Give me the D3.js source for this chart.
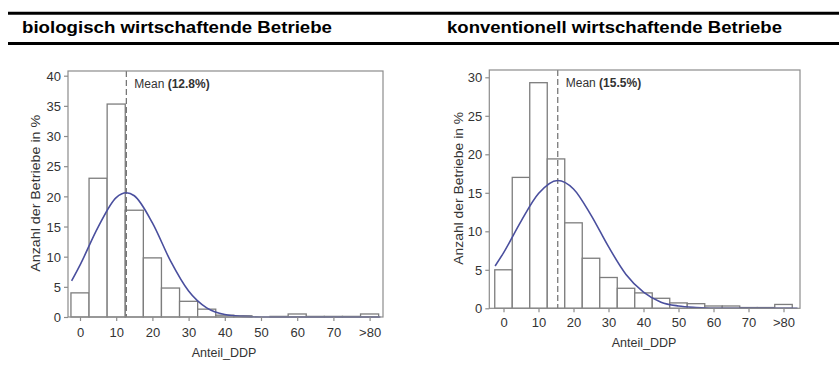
<!DOCTYPE html>
<html><head><meta charset="utf-8">
<script src="https://cdn.jsdelivr.net/npm/d3@7"></script>
<style>body{margin:0;background:#fff}svg{display:block}text{font-family:"Liberation Sans",Arial,sans-serif}</style>
</head><body>
<svg id="c" width="839" height="372"></svg>
<script>
// ---- data ----
const panelTitles = ["biologisch wirtschaftende Betriebe", "konventionell wirtschaftende Betriebe"];
const binCenters = [0,5,10,15,20,25,30,35,40,45,50,55,60,65,70,75,80];
const bioPct  = [4,23,35.3,17.7,9.8,4.8,2.6,1.3,0.3,0.2,0,0.1,0.5,0.1,0.1,0.1,0.5];
const convPct = [5,17,29.3,19.4,11.1,6.5,4,2.6,2,1.3,0.7,0.6,0.3,0.3,0.1,0.1,0.5];
const bioCurveX = [-2.3,0,5,10,12.8,15,20,25,30,35,40,45,50,60,70,80,83];
const bioCurveY = [6.0,8.6,14.9,19.8,20.6,20.1,15.6,9.3,4.3,1.5,0.4,0.1,0,0,0,0,0];
const convCurveX = [-2.4,0,5,10,15.5,20,25,30,35,40,45,50,55,60,70,80,84];
const convCurveY = [5.5,7.2,11.3,14.9,16.6,15.5,12.1,8.0,4.4,2.1,0.8,0.3,0.1,0,0,0,0];
const bioMean = 12.8, convMean = 15.5;
const xTickValues = [0,10,20,30,40,50,60,70,80];
const xTickLabels = ["0","10","20","30","40","50","60","70",">80"];
const bioYTicks = [0,5,10,15,20,25,30,35,40];
const convYTicks = [0,5,10,15,20,25,30];
const yTitle = "Anzahl der Betriebe in %";
const xTitle = "Anteil_DDP";

const svg = d3.select("#c");

// header
[13.3, 43.5].forEach(y => svg.append("line").attr("x1",8).attr("x2",839).attr("y1",y).attr("y2",y)
  .attr("stroke","#000").attr("stroke-width",3));
svg.append("text").attr("x",22).attr("y",33.3).attr("font-size",16.5).attr("font-weight","bold")
  .attr("textLength",310).attr("lengthAdjust","spacingAndGlyphs").text(panelTitles[0]);
svg.append("text").attr("x",447).attr("y",33.3).attr("font-size",16.5).attr("font-weight","bold")
  .attr("textLength",335).attr("lengthAdjust","spacingAndGlyphs").text(panelTitles[1]);

const panels = [
  {pct: bioPct, cx: bioCurveX, cy: bioCurveY, mean: bioMean, yTicks: bioYTicks,
   xr: [80, 369.6], yr: [317, 75.7], yMax: 40, frame: {l:68, r:383, t:71, b:317},
   yTitleX: 39.5, yTitleY: 193.3, yTitleLen: 157, xTitleX: 224, xTitleY: 357, tickLabY: 337, meanLabY: 87.7},
  {pct: convPct, cx: convCurveX, cy: convCurveY, mean: convMean, yTicks: convYTicks,
   xr: [503.5, 783.5], yr: [308.3, 77.3], yMax: 30, frame: {l:489.3, r:800, t:70, b:308.3},
   yTitleX: 463, yTitleY: 188.3, yTitleLen: 153, xTitleX: 644, xTitleY: 347, tickLabY: 327.5, meanLabY: 86.7}
];

panels.forEach(p => {
  const g = svg.append("g");
  const x = d3.scaleLinear().domain([0,80]).range(p.xr);
  const y = d3.scaleLinear().domain([0,p.yMax]).range(p.yr);
  const f = p.frame;
  // bars
  g.selectAll("rect.bar").data(binCenters.map((c,i)=>({c, v:p.pct[i]}))).join("rect")
    .attr("x", d=>x(d.c-2.5)).attr("width", d=>x(d.c+2.5)-x(d.c-2.5))
    .attr("y", d=>y(d.v)).attr("height", d=>y(0)-y(d.v))
    .attr("fill","#fff").attr("stroke","#7d7d7d").attr("stroke-width",1.3);
  // mean line
  g.append("line").attr("x1",x(p.mean)).attr("x2",x(p.mean)).attr("y1",f.t).attr("y2",f.b)
    .attr("stroke","#6e6e6e").attr("stroke-width",1.2).attr("stroke-dasharray","6,3");
  // curve
  const line = d3.line().x(d=>x(d[0])).y(d=>y(d[1])).curve(d3.curveMonotoneX);
  g.append("path").datum(p.cx.map((v,i)=>[v,p.cy[i]])).attr("d",line)
    .attr("fill","none").attr("stroke","#4a4f9e").attr("stroke-width",1.6);
  // frame
  g.append("rect").attr("x",f.l).attr("y",f.t).attr("width",f.r-f.l).attr("height",f.b-f.t)
    .attr("fill","none").attr("stroke","#8c8c8c").attr("stroke-width",1.2);
  // axes
  const xa = g.append("g").attr("transform",`translate(0,${f.b})`)
    .call(d3.axisBottom(x).tickValues(xTickValues).tickFormat((d,i)=>xTickLabels[i]).tickSize(4).tickPadding(5));
  const ya = g.append("g").attr("transform",`translate(${f.l},0)`)
    .call(d3.axisLeft(y).tickValues(p.yTicks).tickSize(4).tickPadding(3));
  [xa,ya].forEach(a=>{
    a.select(".domain").remove();
    a.selectAll("line").attr("stroke","#8c8c8c").attr("stroke-width",1.2);
    a.selectAll("text").attr("font-size",13).attr("fill","#333").attr("font-family","\"Liberation Sans\",Arial,sans-serif");
  });
  xa.selectAll("text").attr("dy",null).attr("y",null).attr("transform",null)
    .attr("y", p.tickLabY - f.b);
  ya.selectAll("text").attr("dy","0.36em");
  // titles
  g.append("text").attr("transform",`translate(${p.yTitleX},${p.yTitleY}) rotate(-90)`)
    .attr("text-anchor","middle").attr("font-size",12.5).attr("fill","#333")
    .attr("textLength",p.yTitleLen).attr("lengthAdjust","spacingAndGlyphs").text(yTitle);
  g.append("text").attr("x",p.xTitleX).attr("y",p.xTitleY).attr("text-anchor","middle")
    .attr("font-size",12.5).attr("fill","#333").text(xTitle);
  const ml = g.append("text").attr("x",x(p.mean)+8).attr("y",p.meanLabY).attr("font-size",12).attr("fill","#333");
  ml.append("tspan").text("Mean ");
  ml.append("tspan").attr("font-weight","bold").text(`(${p.mean}%)`);
});
</script>
</body></html>
